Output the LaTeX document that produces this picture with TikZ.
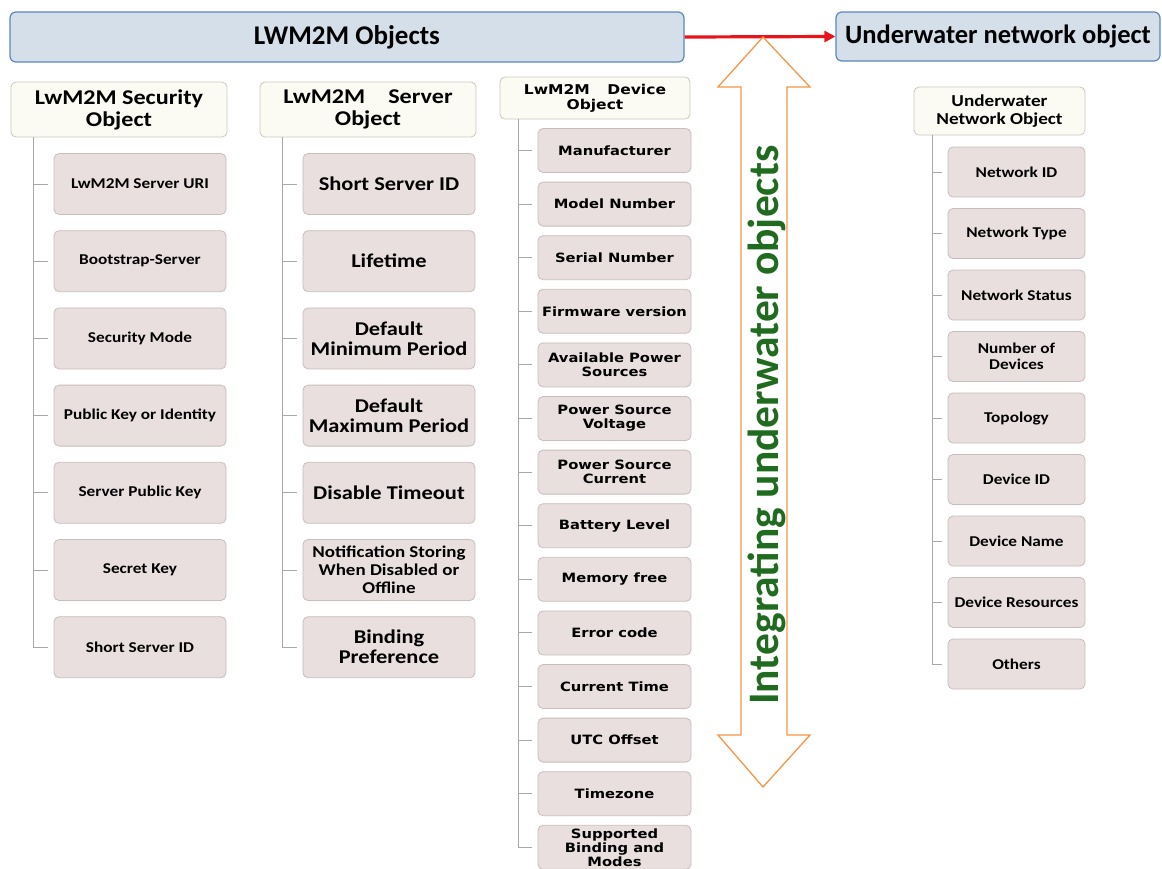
\documentclass[tikz,border=0pt]{standalone}
\usepackage{fontspec}
\setmainfont{Carlito}
\newfontfamily\wf[FakeStretch=1.15]{Carlito}
\newfontfamily\dv[FakeStretch=1.15]{DejaVu Sans}
\usetikzlibrary{arrows.meta}
\definecolor{topfill}{HTML}{D5DFEA}
\definecolor{topline}{HTML}{5B86BE}
\definecolor{hdrfill}{HTML}{FBFBF4}
\definecolor{hdrline}{HTML}{C8C8BE}
\definecolor{itemfill}{HTML}{E9DFDF}
\definecolor{itemline}{HTML}{C9BCBC}
\definecolor{treeline}{HTML}{A8A8A8}
\definecolor{arrorange}{HTML}{F79646}
\definecolor{txtgreen}{HTML}{216B21}
\definecolor{arrred}{HTML}{E8141C}
\tikzset{
  topbox/.style={draw=topline, fill=topfill, line width=1.2pt, rounded corners=6pt,
    inner sep=0pt},
  hdrbox/.style={draw=hdrline, fill=hdrfill, line width=0.8pt, rounded corners=5pt,
    align=center, inner sep=0pt},
  itembox/.style={draw=itemline, fill=itemfill, line width=0.8pt, rounded corners=5pt,
    align=center, inner sep=0pt},
  secitem/.style={itembox, minimum width=172pt, minimum height=61pt,
    font=\wf\fontsize{15}{17}\selectfont\bfseries},
  srvitem/.style={itembox, minimum width=172pt, minimum height=61pt,
    font=\wf\fontsize{19.5}{20}\selectfont\bfseries},
  devitem/.style={itembox, minimum width=153pt, minimum height=44pt,
    font=\dv\fontsize{12.8}{14}\selectfont\bfseries},
  uwitem/.style={itembox, minimum width=137pt, minimum height=50pt,
    font=\wf\fontsize{15}{16.5}\selectfont\bfseries},
  tree/.style={draw=treeline, line width=1pt, shorten >=6pt},
}
\begin{document}
\begin{tikzpicture}[x=1pt, y=-1pt]
\useasboundingbox (0,0) rectangle (1162,868);

% top level boxes
\node[topbox, minimum width=674pt, minimum height=50pt, font=\fontsize{27}{30}\selectfont\bfseries]
  (lw) at (347,37) {LWM2M Objects};
\node[topbox, minimum width=324pt, minimum height=49pt, font=\fontsize{26.5}{30}\selectfont\bfseries]
  (uw) at (998,36.5) {Underwater network object};

% headers
\node[hdrbox, minimum width=216pt, minimum height=55pt, font=\wf\fontsize{21}{22}\selectfont\bfseries]
  (sec) at (119,109.5) {LwM2M Security\\Object};
\node[hdrbox, minimum width=216pt, minimum height=55pt, font=\wf\fontsize{21}{22}\selectfont\bfseries]
  (srv) at (368,109.5) {LwM2M\hspace{1.1em}Server\\Object};
\node[hdrbox, minimum width=190pt, minimum height=42pt, font=\dv\fontsize{13.5}{15}\selectfont\bfseries]
  (dev) at (595,98) {LwM2M\hspace{1.3em}Device\\Object};
\node[hdrbox, minimum width=171pt, minimum height=48pt, font=\wf\fontsize{16.7}{18}\selectfont\bfseries]
  (uwh) at (999.5,111) {Underwater\\Network Object};

% tree anchors
\coordinate (secv) at (33,137);
\coordinate (srvv) at (282,137);
\coordinate (devv) at (518,119);
\coordinate (uwv) at (932,135);

% security items
\foreach \t [count=\i from 0] in {LwM2M Server URI, Bootstrap-Server, Security Mode,
  Public Key or Identity, Server Public Key, Secret Key, Short Server ID}{
  \node[secitem] (s\i) at (140,{184+77.2*\i}) {\t};
  \draw[tree] (secv) |- (s\i.west);
}

% server items
\node[srvitem] (v0) at (389,184) {Short Server ID};
\node[srvitem] (v1) at (389,261.2) {Lifetime};
\node[srvitem] (v2) at (389,338.4) {Default\\Minimum Period};
\node[srvitem] (v3) at (389,415.6) {Default\\Maximum Period};
\node[srvitem] (v4) at (389,492.8) {Disable Timeout};
\node[srvitem, font=\wf\fontsize{16.5}{18}\selectfont\bfseries] (v5) at (389,570) {Notification Storing\\When Disabled or\\Offline};
\node[srvitem] (v6) at (389,647.2) {Binding\\Preference};
\foreach \i in {0,...,6}{\draw[tree] (srvv) |- (v\i.west);}

% device items
\foreach \t [count=\i from 0] in {Manufacturer, Model Number, Serial Number, Firmware version,
  {Available Power\\Sources}, {Power Source\\Voltage}, {Power Source\\Current},
  Battery Level, Memory free, Error code, Current Time, UTC Offset, Timezone,
  {Supported\\Binding and\\Modes}}{
  \node[devitem] (d\i) at (614.5,{150.5+53.6*\i}) {\t};
  \draw[tree] (devv) |- (d\i.west);
}

% underwater items
\foreach \t [count=\i from 0] in {Network ID, Network Type, Network Status, {Number of\\Devices},
  Topology, Device ID, Device Name, Device Resources, Others}{
  \node[uwitem] (u\i) at (1016.5,{172+61.5*\i}) {\t};
  \draw[tree] (uwv) |- (u\i.west);
}

% red arrow
\draw[arrred, line width=3.2pt, -{Triangle[length=11pt, width=11pt]}] (lw.east) -- (uw.west);

% double block arrow
\coordinate (ta) at (763,37);
\coordinate (tb) at (763,787);
\draw[arrorange, line width=1.3pt, fill=white, line join=miter]
  (ta) -- (810,87) -- (787,87) -- (787,735) -- (810,735) -- (tb)
  -- (718,735) -- (741,735) -- (741,87) -- (718,87) -- cycle;
\node[rotate=90, text=txtgreen, font=\fontsize{43.5}{46}\selectfont\bfseries, inner sep=0pt]
  (integ) at (767,425) {Integrating underwater objects};
\end{tikzpicture}
\end{document}
